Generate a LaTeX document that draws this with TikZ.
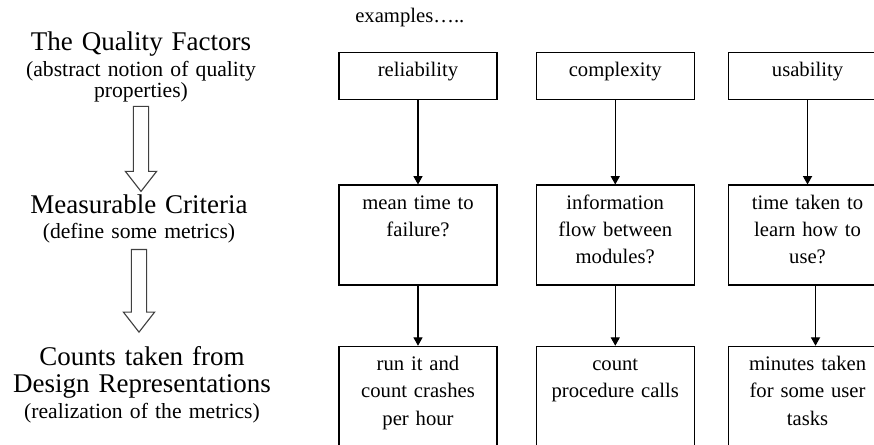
\documentclass[tikz,border=0pt]{standalone}
\usepackage{fontspec}
\setmainfont{Liberation Serif}
\usetikzlibrary{arrows.meta, positioning, calc}
\newcommand{\levelfont}{\fontsize{19.2}{19.9}\selectfont}
\newcommand{\notefont}{\fontsize{15.4}{15.6}\selectfont}
\newcommand{\boxfont}{\fontsize{14.7}{19.5}\selectfont}
\newcommand{\blockarrow}[2]{%
  \draw[hollowarr] let \p1=(#1), \p2=(#2) in
    (\x1-0.19cm,\y1) -- (\x1-0.19cm,\y2+0.5cm) -- (\x1-0.39cm,\y2+0.5cm) -- (\x1,\y2)
    -- (\x1+0.39cm,\y2+0.5cm) -- (\x1+0.19cm,\y2+0.5cm) -- (\x1+0.19cm,\y1) -- cycle;}
\tikzset{
    level/.style={font=\levelfont, align=center, inner sep=0pt, text width=7cm},
    levelnote/.style={font=\notefont, align=center, inner sep=0pt, text width=7cm},
    crit/.style={rectangle, draw, line width=0.9pt, text width=3.75cm, align=center,
                 inner sep=0.1cm, font=\boxfont, text height=0.5cm},
    factorbox/.style={crit, text depth=0.48cm},
    metricbox/.style={crit, text depth=1.8cm},
    countbox/.style={crit, text depth=1.775cm},
    arr/.style={-{Triangle[width=6.5pt,length=6pt]}, line width=0.8pt},
    hollowarr/.style={draw=black!75, line width=0.8pt},
}
\begin{document}
\begin{tikzpicture}
  \useasboundingbox (0,0) rectangle (21.85,-11.1);
  \clip (0,0) rectangle (21.85,-11.1);

  % the three levels
  \node[level, anchor=base] (qf) at (3.525,-1.25) {The Quality Factors};
  \node[levelnote, anchor=base] (qfn) at (3.525,-1.9) {(abstract notion of quality\\properties)};
  \node[level, anchor=base] (mc) at (3.475,-5.325) {Measurable Criteria};
  \node[levelnote, anchor=base] (mcn) at (3.475,-5.95) {(define some metrics)};
  \node[level, anchor=base] (ct) at (3.55,-9.125) {Counts taken from\\Design Representations};
  \node[levelnote, anchor=base] (ctn) at (3.55,-10.45) {(realization of the metrics)};

  \blockarrow{[yshift=-0.09cm]qfn.south}{[yshift=0.065cm]mc.north}
  \blockarrow{[yshift=-0.165cm]mcn.south}{[yshift=0.34cm]ct.north}

  % examples
  \node[font=\boxfont, anchor=base west, inner sep=0pt] (ex) at (8.875,-0.55) {examples…..};

  \node[factorbox, anchor=north] (rel) at (10.45,-1.3) {reliability};
  \node[factorbox, right=0.95cm of rel] (cpx) {complexity};
  \node[factorbox, right=0.825cm of cpx] (usa) {usability};

  \node[metricbox, below=2.1cm of rel] (mttf) {mean time to\\failure?};
  \node[metricbox, below=2.1cm of cpx] (flow) {information\\flow between\\modules?};
  \node[metricbox, below=2.1cm of usa] (learn) {time taken to\\learn how to\\use?};

  \node[countbox, below=1.5cm of mttf] (crash) {run it and\\count crashes\\per hour};
  \node[countbox, below=1.5cm of flow] (calls) {count\\procedure calls};
  \node[countbox, below=1.5cm of learn] (mins) {minutes taken\\for some user\\tasks};

  \draw[arr] (rel) -- (mttf);
  \draw[arr] (cpx) -- (flow);
  \draw[arr] (usa) -- (learn);
  \draw[arr] (mttf) -- (crash);
  \draw[arr] (flow) -- (calls);
  \draw[arr] ([xshift=0.2cm]learn.south) -- ([xshift=0.2cm]mins.north);
\end{tikzpicture}
\end{document}
